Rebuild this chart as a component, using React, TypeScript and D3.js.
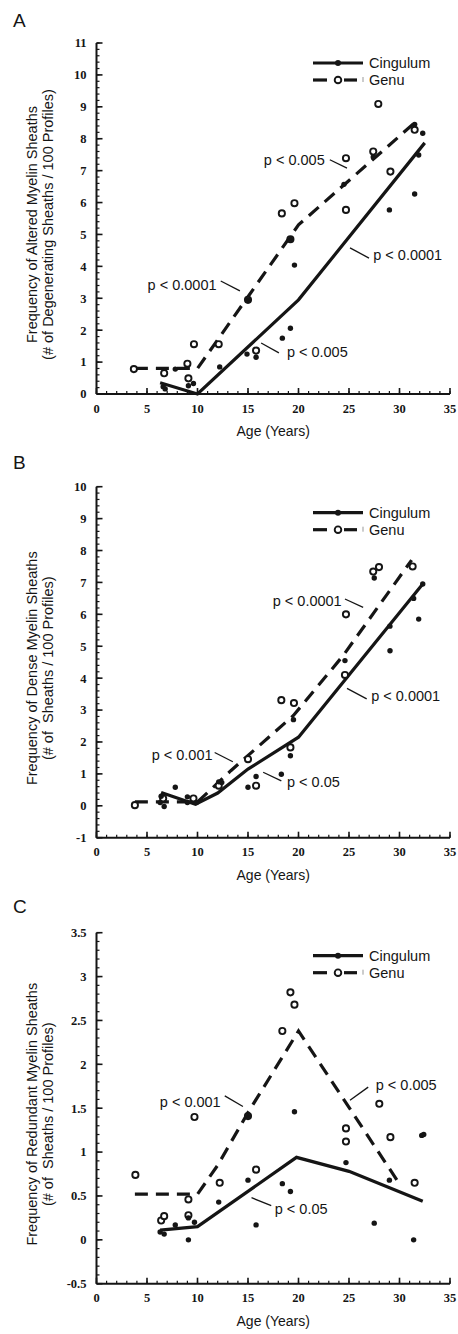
import React from 'react'
import * as d3 from 'd3'

type Pt = [number, number]

const width = 458
const height = 1334
const sans = '"Liberation Sans", Arial, sans-serif'
const serif = '"Liberation Serif", "Times New Roman", serif'

const ageTicks = [0, 5, 10, 15, 20, 25, 30, 35]
const yTicksA = [0, 1, 2, 3, 4, 5, 6, 7, 8, 9, 10, 11]
const yTicksB = [-1, 0, 1, 2, 3, 4, 5, 6, 7, 8, 9, 10]
const yTicksC = [-0.5, 0, 0.5, 1, 1.5, 2, 2.5, 3, 3.5]

// A: altered myelin sheaths
const cingulumA: Pt[] = [[6.6, 0.23], [6.8, 0.16], [7.8, 0.78], [9.1, 0.26], [9.6, 0.33], [12.2, 0.85], [14.9, 1.25], [15.0, 2.95], [15.8, 1.15], [18.4, 1.75], [19.2, 2.06], [19.6, 4.04], [19.2, 4.85], [24.5, 6.57], [27.4, 7.43], [29.0, 5.77], [31.5, 6.27], [31.9, 7.49], [32.3, 8.17], [31.5, 8.45]]
const genuA: Pt[] = [[3.7, 0.78], [6.7, 0.65], [9.0, 0.95], [9.1, 0.49], [9.65, 1.56], [12.1, 1.56], [15.0, 2.95], [15.8, 1.36], [18.35, 5.66], [19.6, 5.98], [19.2, 4.85], [24.7, 5.77], [24.7, 7.39], [27.4, 7.6], [27.9, 9.09], [29.1, 6.97], [31.5, 8.28]]
const cingulumFitA: Pt[] = [[6.3, 0.35], [10, 0], [20, 2.95], [32.5, 7.87]]
const genuFitA: Pt[] = [[3.8, 0.8], [10, 0.8], [20, 5.3], [31.5, 8.5]]

// B: dense myelin sheaths
const cingulumB: Pt[] = [[6.3, 0.1], [6.4, 0.3], [6.7, -0.02], [7.8, 0.58], [9.0, 0.28], [9.0, 0.1], [9.9, 0.1], [12.1, 0.75], [12.4, 0.73], [15.0, 0.58], [15.8, 0.92], [18.3, 0.99], [19.5, 2.7], [19.2, 1.57], [24.6, 4.55], [27.5, 7.14], [29.05, 5.63], [29.06, 4.86], [31.4, 6.5], [31.9, 5.85], [32.3, 6.95]]
const genuB: Pt[] = [[3.8, 0.02], [6.6, 0.23], [9.6, 0.23], [12.1, 0.63], [15.0, 1.46], [15.8, 0.63], [18.3, 3.31], [19.55, 3.22], [19.2, 1.83], [24.6, 4.1], [24.7, 6.0], [27.4, 7.34], [27.97, 7.48], [31.3, 7.5]]
const cingulumFitB: Pt[] = [[6.4, 0.42], [9.8, 0.05], [12, 0.4], [15, 1.15], [20, 2.15], [32.3, 6.95]]
const genuFitB: Pt[] = [[3.8, 0.12], [10, 0.12], [13.3, 1.1], [19.5, 2.83], [24.4, 4.7], [31.2, 7.7]]

// C: redundant myelin sheaths
const cingulumC: Pt[] = [[6.3, 0.09], [6.7, 0.065], [7.8, 0.17], [9.1, 0.0], [9.1, 0.25], [9.7, 0.2], [12.1, 0.43], [15.0, 1.41], [15.0, 0.68], [15.8, 0.17], [18.4, 0.64], [19.2, 0.55], [19.6, 1.46], [24.7, 0.88], [27.5, 0.19], [29.0, 0.68], [31.4, 0.0], [32.2, 1.19], [32.4, 1.2]]
const genuC: Pt[] = [[3.85, 0.74], [6.4, 0.22], [6.7, 0.27], [9.1, 0.46], [9.1, 0.28], [9.7, 1.4], [12.2, 0.65], [15.0, 1.41], [15.8, 0.8], [18.4, 2.38], [19.2, 2.82], [19.6, 2.68], [24.7, 1.27], [24.7, 1.12], [28.0, 1.55], [29.1, 1.17], [31.5, 0.65]]
const cingulumFitC: Pt[] = [[6.3, 0.11], [10, 0.15], [19.8, 0.94], [25, 0.78], [32.3, 0.44]]
const genuFitC: Pt[] = [[3.8, 0.52], [10, 0.52], [12, 0.85], [15, 1.45], [20, 2.38], [30.1, 0.62]]

// p-value notes: text anchor and leader line in data units
type Note = { label: string; at: Pt; from: Pt; to: Pt }
const notesA: Note[] = [
  { label: 'p < 0.005', at: [16.57, 7.34], from: [23.1, 7.34], to: [24.8, 7.08] },
  { label: 'p < 0.0001', at: [27.4, 4.36], from: [25.1, 4.58], to: [26.98, 4.26] },
  { label: 'p < 0.0001', at: [5.06, 3.42], from: [12.3, 3.54], to: [14.2, 3.23] },
  { label: 'p < 0.005', at: [18.85, 1.31], from: [16.3, 1.6], to: [18.06, 1.29] },
]
const notesB: Note[] = [
  { label: 'p < 0.0001', at: [17.45, 6.43], from: [24.6, 6.48], to: [26.4, 6.22] },
  { label: 'p < 0.0001', at: [27.2, 3.45], from: [24.8, 3.68], to: [26.75, 3.35] },
  { label: 'p < 0.001', at: [5.46, 1.59], from: [11.7, 1.67], to: [13.5, 1.38] },
  { label: 'p < 0.05', at: [18.86, 0.75], from: [16.5, 1.05], to: [18.3, 0.78] },
]
const notesC: Note[] = [
  { label: 'p < 0.001', at: [6.27, 1.57], from: [12.7, 1.64], to: [14.5, 1.52] },
  { label: 'p < 0.005', at: [27.65, 1.76], from: [25.1, 1.59], to: [26.9, 1.74] },
  { label: 'p < 0.05', at: [17.65, 0.35], from: [15.35, 0.48], to: [17.3, 0.39] },
]

const panels = [
  {
    letter: 'A', top: 43, letterY: 27, legendDy: 20, yTicks: yTicksA, minor: 0.2,
    title: ['Frequency of Altered Myelin Sheaths', '(# of Degenerating Sheaths / 100 Profiles)'],
    cing: cingulumA, genu: genuA, cingFit: cingulumFitA, genuFit: genuFitA, notes: notesA,
  },
  {
    letter: 'B', top: 486.7, letterY: 469, legendDy: 26, yTicks: yTicksB, minor: 0.2,
    title: ['Frequency of Dense Myelin Sheaths', '(# of\u00a0 Sheaths / 100 Profiles)'],
    cing: cingulumB, genu: genuB, cingFit: cingulumFitB, genuFit: genuFitB, notes: notesB,
  },
  {
    letter: 'C', top: 932.7, letterY: 913, legendDy: 23, yTicks: yTicksC, minor: 0.1,
    title: ['Frequency of Redundant Myelin Sheaths', '(# of\u00a0 Sheaths / 100 Profiles)'],
    cing: cingulumC, genu: genuC, cingFit: cingulumFitC, genuFit: genuFitC, notes: notesC,
  },
]

const ink = '#151515'

const Panel = ({ p }: { p: any }) => {
  const lo = p.yTicks[0]
  const hi = p.yTicks[p.yTicks.length - 1]
  const x = d3.scaleLinear().domain([0, 35]).range([96.5, 450])
  const y = d3.scaleLinear().domain([lo, hi]).range([p.top + 351, p.top])
  const line = d3.line<Pt>().x(d => x(d[0])).y(d => y(d[1]))
  const base = y(lo)
  const xMinor = d3.range(0, 35.001, 1)
  const yMinor = d3.range(lo, hi + 1e-6, p.minor)
  const midY = (y(lo) + y(hi)) / 2 + 6
  const ly = p.top + p.legendDy

  return (
    <g>
      <text x={13} y={p.letterY} fontFamily={sans} fontSize={19} fill={ink}>{p.letter}</text>

      {/* y title */}
      <g transform={`translate(37,${midY}) rotate(-90)`}>
        <text textAnchor="middle" fontFamily={sans} fontSize={14.5} fill={ink}>{p.title[0]}</text>
        <text y={16} textAnchor="middle" fontFamily={sans} fontSize={14.5} fill={ink}>{p.title[1]}</text>
      </g>

      {/* axes */}
      <line x1={x(0)} x2={x(0)} y1={y(hi)} y2={base} stroke={ink} strokeWidth={2} />
      <line x1={x(0)} x2={x(35)} y1={base} y2={base} stroke={ink} strokeWidth={2} />
      {yMinor.map((v, i) => (
        <line key={'ym' + i} x1={x(0)} x2={x(0) + 3} y1={y(v)} y2={y(v)} stroke={ink} strokeWidth={1.2} />
      ))}
      {p.yTicks.map((v: number) => (
        <g key={'yt' + v}>
          <line x1={x(0)} x2={x(0) + 6} y1={y(v)} y2={y(v)} stroke={ink} strokeWidth={1.6} />
          <text x={x(0) - 10} y={y(v)} dy="0.35em" textAnchor="end" fontFamily={serif} fontWeight="bold" fontSize={12.5} fill={ink}>{String(v)}</text>
        </g>
      ))}
      {xMinor.map(v => (
        <line key={'xm' + v} x1={x(v)} x2={x(v)} y1={base} y2={base - 3} stroke={ink} strokeWidth={1.2} />
      ))}
      {ageTicks.map(v => (
        <g key={'xt' + v}>
          <line x1={x(v)} x2={x(v)} y1={base} y2={base - 6} stroke={ink} strokeWidth={1.6} />
          <text x={x(v)} y={base + 18.5} textAnchor="middle" fontFamily={serif} fontWeight="bold" fontSize={12.5} fill={ink}>{v}</text>
        </g>
      ))}
      <text x={x(17.5)} y={base + 42} textAnchor="middle" fontFamily={sans} fontSize={14} fill={ink}>Age (Years)</text>

      {/* fits */}
      <path d={line(p.genuFit) || ''} fill="none" stroke={ink} strokeWidth={3.2} strokeDasharray="13,8" />
      <path d={line(p.cingFit) || ''} fill="none" stroke={ink} strokeWidth={3.2} />

      {/* points */}
      {p.genu.map((d: Pt, i: number) => (
        <circle key={'g' + i} cx={x(d[0])} cy={y(d[1])} r={3.1} fill="#fff" stroke={ink} strokeWidth={1.9} />
      ))}
      {p.cing.map((d: Pt, i: number) => (
        <circle key={'c' + i} cx={x(d[0])} cy={y(d[1])} r={2.7} fill={ink} />
      ))}

      {/* notes */}
      {p.notes.map((n: Note, i: number) => (
        <g key={'n' + i}>
          <line x1={x(n.from[0])} y1={y(n.from[1])} x2={x(n.to[0])} y2={y(n.to[1])} stroke={ink} strokeWidth={1.3} />
          <text x={x(n.at[0])} y={y(n.at[1])} dy="0.35em" fontFamily={sans} fontSize={14.5} fill={ink}>{n.label}</text>
        </g>
      ))}

      {/* legend */}
      <line x1={313} x2={363} y1={ly} y2={ly} stroke={ink} strokeWidth={3.2} />
      <circle cx={338} cy={ly} r={3} fill={ink} />
      <text x={369} y={ly} dy="0.35em" fontFamily={sans} fontSize={14.5} fill={ink}>Cingulum</text>
      <line x1={313} x2={327} y1={ly + 17} y2={ly + 17} stroke={ink} strokeWidth={3.2} />
      <line x1={344} x2={357} y1={ly + 17} y2={ly + 17} stroke={ink} strokeWidth={3.2} />
      <circle cx={338} cy={ly + 17} r={3.3} fill="#fff" stroke={ink} strokeWidth={1.9} />
      <line x1={363} x2={363} y1={ly + 14} y2={ly + 19} stroke="#999" strokeWidth={1} />
      <text x={369} y={ly + 17} dy="0.35em" fontFamily={sans} fontSize={14.5} fill={ink}>Genu</text>
    </g>
  )
}

export default function App() {
  return (
    <svg width={width} height={height} style={{ position: 'absolute', left: 0, top: 0, background: '#fff' }}>
      <rect width={width} height={height} fill="#fff" />
      {panels.map(p => <Panel key={p.letter} p={p} />)}
    </svg>
  )
}
